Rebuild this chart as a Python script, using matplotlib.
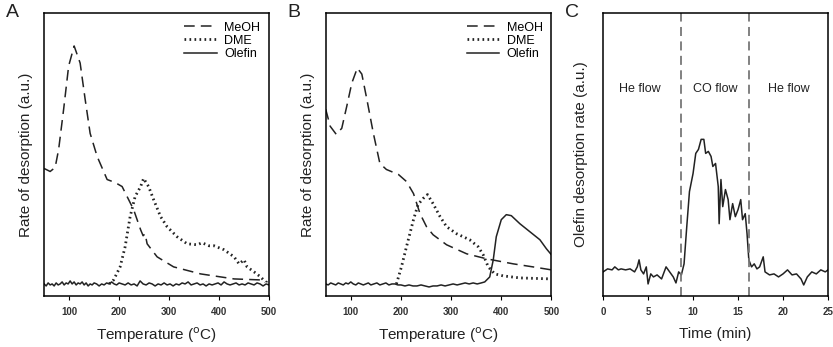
import matplotlib.pyplot as plt

plt.rcParams['font.family'] = ['Liberation Sans', 'DejaVu Sans']

# ---- panel A (temperature in C, signal in a.u.)
a_meoh_t = [50, 62, 72, 79, 89, 99, 110, 122, 132, 142, 156, 176, 192, 206, 219, 229, 243,
            248, 252, 256, 276, 309, 363, 430, 483, 497]
a_meoh_y = [127, 124, 128, 146, 186, 229, 249, 232, 196, 162, 139, 116, 113, 109, 96, 86, 66,
            60, 62, 52, 39, 29, 22, 17, 16, 14]
a_dme_t = [180, 189, 202, 212, 222, 232, 243, 249, 259, 269, 283, 296, 316, 336, 356, 366, 380,
           390, 410, 430, 440, 450, 456, 470, 483, 493]
a_dme_y = [12, 16, 29, 49, 79, 99, 109, 117, 109, 96, 79, 69, 59, 52, 51, 53, 50,
           50, 46, 39, 32, 36, 29, 24, 19, 14]
a_ole_t = [50, 54, 58, 62, 66, 70, 74, 78, 82, 86, 90, 94, 98, 102, 106, 110, 114, 118, 122,
           126, 130, 134, 138, 142, 146, 150, 155, 160, 165, 170, 175, 180, 185, 190, 195, 200,
           206, 212, 218, 224, 230, 236, 242, 248, 254, 260, 266, 272, 278, 284, 290, 296, 302,
           308, 314, 320, 326, 332, 338, 344, 350, 356, 362, 368, 374, 380, 386, 392, 398, 404,
           410, 416, 422, 428, 434, 440, 446, 452, 458, 464, 470, 476, 482, 488, 494, 500]
a_ole_y = [12, 10, 13, 11, 12, 10, 13, 11, 12, 14, 11, 13, 12, 15, 12, 14, 11, 13, 12,
           14, 11, 13, 10, 12, 11, 13, 12, 10, 12, 11, 13, 12, 14, 12, 11, 13,
           12, 11, 13, 11, 12, 10, 15, 12, 11, 13, 12, 10, 12, 11, 13, 11, 12,
           10, 12, 11, 13, 12, 14, 11, 12, 13, 11, 12, 10, 12, 11, 12, 13, 11,
           14, 12, 11, 12, 13, 11, 12, 11, 13, 12, 11, 13, 12, 10, 12, 11]

# ---- panel B
b_meoh_t = [50, 59, 71, 82, 92, 102, 113, 122, 132, 145, 158, 171, 195, 211, 225, 238, 251,
            264, 291, 331, 371, 424, 463, 500]
b_meoh_y = [186, 169, 161, 167, 189, 212, 227, 221, 196, 162, 132, 126, 121, 114, 102, 82, 69,
            61, 51, 42, 37, 32, 29, 26]
b_dme_t = [191, 201, 211, 225, 234, 244, 253, 264, 278, 291, 311, 337, 354, 364, 374, 387, 404,
           437, 500]
b_dme_y = [12, 29, 49, 76, 91, 97, 101, 92, 79, 69, 62, 56, 49, 41, 29, 22, 20,
           18, 17]
b_ole_t = [50, 55, 60, 65, 70, 75, 80, 85, 90, 95, 100, 105, 110, 115, 120, 125, 130, 135, 140,
           146, 152, 158, 164, 170, 176, 182, 188, 194, 200, 208, 216, 224, 232, 240, 248, 256,
           264, 272, 280, 288, 296, 304, 312, 320, 328, 336, 344, 352, 360, 367, 377, 384, 390,
           400, 410, 420, 437, 457, 477, 490, 500]
b_ole_y = [12, 11, 13, 12, 11, 13, 12, 11, 13, 12, 14, 12, 11, 13, 12, 11, 12, 13, 11,
           12, 13, 11, 12, 13, 11, 12, 12, 11, 11, 10, 11, 10, 10, 11, 10, 9,
           10, 10, 11, 10, 11, 12, 11, 12, 13, 12, 13, 12, 13, 14, 19, 36, 59,
           76, 81, 80, 72, 64, 56, 47, 41]

# ---- panel C (time in min)
c_t = [0, 0.5, 1, 1.3, 1.7, 2, 2.5, 3, 3.5, 3.8, 4, 4.2, 4.5, 4.8, 5, 5.3, 5.6, 6, 6.5, 7,
       7.4, 7.8, 8.1, 8.4, 8.7, 9, 9.3, 9.6, 10, 10.3, 10.6, 10.9, 11.2, 11.4, 11.7, 12, 12.2,
       12.5, 12.8, 12.9, 13.1, 13.3, 13.6, 13.9, 14.1, 14.4, 14.7, 15, 15.3, 15.5, 15.8, 16,
       16.2, 16.5, 16.8, 17.1, 17.4, 17.8, 18, 18.5, 19, 19.5, 20, 20.5, 21, 21.5, 22, 22.3,
       22.7, 23.2, 23.7, 24.2, 24.7, 25]
c_y = [24, 27, 26, 29, 26, 27, 26, 27, 24, 29, 36, 26, 22, 29, 12, 22, 19, 21, 17, 29,
       24, 19, 13, 24, 21, 32, 69, 104, 122, 142, 146, 156, 156, 142, 144, 139, 129,
       132, 109, 72, 116, 89, 106, 96, 76, 92, 79, 86, 96, 76, 82, 62,
       36, 29, 32, 27, 29, 39, 24, 21, 22, 19, 22, 26, 21, 22, 17, 11,
       19, 24, 22, 26, 24, 26]
c_switch = [8.7, 16.2]
c_regions = ['He flow', 'CO flow', 'He flow']
c_region_t = [4.1, 12.5, 20.6]

fig = plt.figure(figsize=(8.33, 3.47), dpi=100)
axA = fig.add_axes([0.053, 0.147, 0.270, 0.816])
axB = fig.add_axes([0.391, 0.147, 0.271, 0.816])
axC = fig.add_axes([0.724, 0.147, 0.270, 0.816])

lw = 1.1
for ax, (mt, my, dt, dy, ot, oy) in zip(
        [axA, axB],
        [(a_meoh_t, a_meoh_y, a_dme_t, a_dme_y, a_ole_t, a_ole_y),
         (b_meoh_t, b_meoh_y, b_dme_t, b_dme_y, b_ole_t, b_ole_y)]):
    ax.plot(mt, my, color='#222222', lw=lw, dashes=(7, 4), label='MeOH')
    ax.plot(dt, dy, color='#222222', lw=2.0, linestyle=(0, (0.6, 1.2)), label='DME')
    ax.plot(ot, oy, color='#222222', lw=lw, label='Olefin')
    ax.set_xlim(50, 500)
    ax.set_xticks([100, 200, 300, 400, 500])
    ax.set_ylim(0, 282)
    ax.set_xlabel('Temperature ($^{\\rm o}$C)', fontsize=11, labelpad=6, color='#222222')
    ax.set_ylabel('Rate of desorption (a.u.)', fontsize=11, labelpad=8, color='#222222')
    ax.legend(loc='upper right', frameon=False, fontsize=9, handlelength=2.6,
              borderaxespad=0.3, labelspacing=0.1, handletextpad=0.6)

axC.plot(c_t, c_y, color='#222222', lw=lw)
for s in c_switch:
    axC.axvline(s, color='#777777', lw=1.3, dashes=(5, 3))
for lab, t in zip(c_regions, c_region_t):
    axC.text(t, 206, lab, ha='center', va='center', fontsize=9, color='#222222')
axC.set_xlim(0, 25)
axC.set_xticks([0, 5, 10, 15, 20, 25])
axC.set_ylim(0, 282)
axC.set_xlabel('Time (min)', fontsize=11, labelpad=7, color='#222222')
axC.set_ylabel('Olefin desorption rate (a.u.)', fontsize=11, labelpad=11, color='#222222')

for ax, letter in zip([axA, axB, axC], ['A', 'B', 'C']):
    ax.set_yticks([])
    ax.tick_params(axis='x', direction='out', length=3, labelsize=7, pad=5)
    for lab in ax.get_xticklabels():
        lab.set_fontweight('bold')
        lab.set_color('#333333')
    for sp in ax.spines.values():
        sp.set_linewidth(1.1)
    ax.text(-0.14, 1.0, letter, transform=ax.transAxes, fontsize=14,
            ha='center', va='center', color='#222222')

fig.savefig('out.png', dpi=100)
